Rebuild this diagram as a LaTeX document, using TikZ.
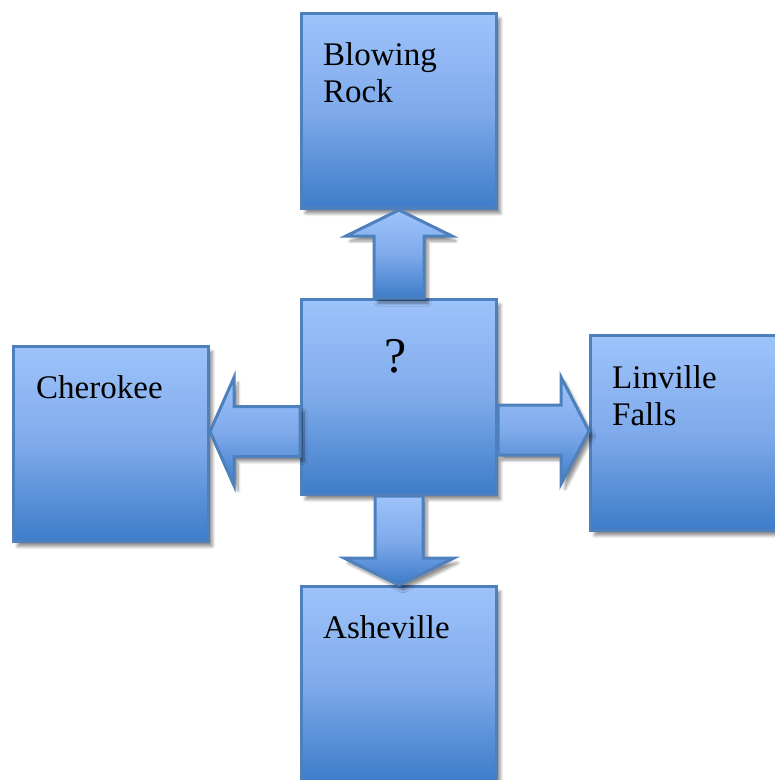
\documentclass[tikz,border=0pt]{standalone}
\usepackage{fontspec}
\setmainfont{Liberation Serif}
\usetikzlibrary{calc,shadows.blur}
\definecolor{boxtop}{HTML}{9DC3FA}
\definecolor{boxmid}{HTML}{7FAAEB}
\definecolor{boxbot}{HTML}{3D7CC8}
\definecolor{boxline}{HTML}{4E80BE}
\tikzset{
  bluebox/.style={draw=boxline, line width=3pt, top color=boxtop, bottom color=boxbot, middle color=boxmid,
    minimum width=195pt, minimum height=195pt, inner sep=0pt, anchor=north west,
    blur shadow={shadow xshift=4pt, shadow yshift=-5pt, shadow blur steps=6, shadow blur radius=3pt, shadow opacity=45}},
  blockarrow/.style={draw=boxline, line width=3pt, line join=miter, top color=boxtop, bottom color=boxbot, middle color=boxmid,
    blur shadow={shadow xshift=4pt, shadow yshift=-5pt, shadow blur steps=6, shadow blur radius=3pt, shadow opacity=45}},
  boxlabel/.style={anchor=base west, inner sep=0pt, align=left, font=\fontsize{33}{37}\selectfont},
}
\begin{document}
\begin{tikzpicture}[x=1pt,y=-1pt]
\useasboundingbox (0,0) rectangle (775,780);
% boxes
\node[bluebox] (c) at (300,298) {};
\node[bluebox] (t) at (300,12) {};
\node[bluebox] (l) at (12,345) {};
\node[bluebox] (r) at (589,334) {};
\node[bluebox] (b) at (300,585) {};
% helper coordinates for side arrows
\coordinate (ltip) at ($(l.east)+(0,-12.5)$);
\coordinate (rtip) at ($(r.west)+(0,-2)$);
% up arrow
\draw[blockarrow] ($(c.north)+(-25,0)$) -- ($(t.south)+(-25,26)$) -- ($(t.south)+(-53,26)$) -- (t.south)
  -- ($(t.south)+(53,26)$) -- ($(t.south)+(25,26)$) -- ($(c.north)+(25,0)$) -- cycle;
% down arrow
\draw[blockarrow] ($(c.south)+(-24,0)$) -- ($(b.north)+(-24,-27)$) -- ($(b.north)+(-55,-27)$) -- (b.north)
  -- ($(b.north)+(55,-27)$) -- ($(b.north)+(24,-27)$) -- ($(c.south)+(24,0)$) -- cycle;
% left arrow
\draw[blockarrow] ($(c.west |- ltip)+(0,-25)$) -- ($(ltip)+(24,-25)$) -- ($(ltip)+(24,-54)$) -- (ltip)
  -- ($(ltip)+(24,54)$) -- ($(ltip)+(24,25)$) -- ($(c.west |- ltip)+(0,25)$) -- cycle;
% right arrow
\draw[blockarrow] ($(c.east |- rtip)+(0,-26)$) -- ($(rtip)+(-28,-26)$) -- ($(rtip)+(-28,-54)$) -- (rtip)
  -- ($(rtip)+(-28,53)$) -- ($(rtip)+(-28,24)$) -- ($(c.east |- rtip)+(0,24)$) -- cycle;
% labels (base anchor = baseline of the last line)
\node[boxlabel] (tl) at ($(t.north west)+(23,90)$) {Blowing\\Rock};
\node[boxlabel] (ll) at ($(l.north west)+(24,53)$) {Cherokee};
\node[boxlabel] (rl) at ($(r.north west)+(23,91)$) {Linville\\Falls};
\node[boxlabel] (bl) at ($(b.north west)+(23,53)$) {Asheville};
\node[anchor=base, inner sep=0pt, font=\fontsize{50}{54}\selectfont] (cl) at ($(c.north)+(-3,74)$) {?};
\end{tikzpicture}
\end{document}
